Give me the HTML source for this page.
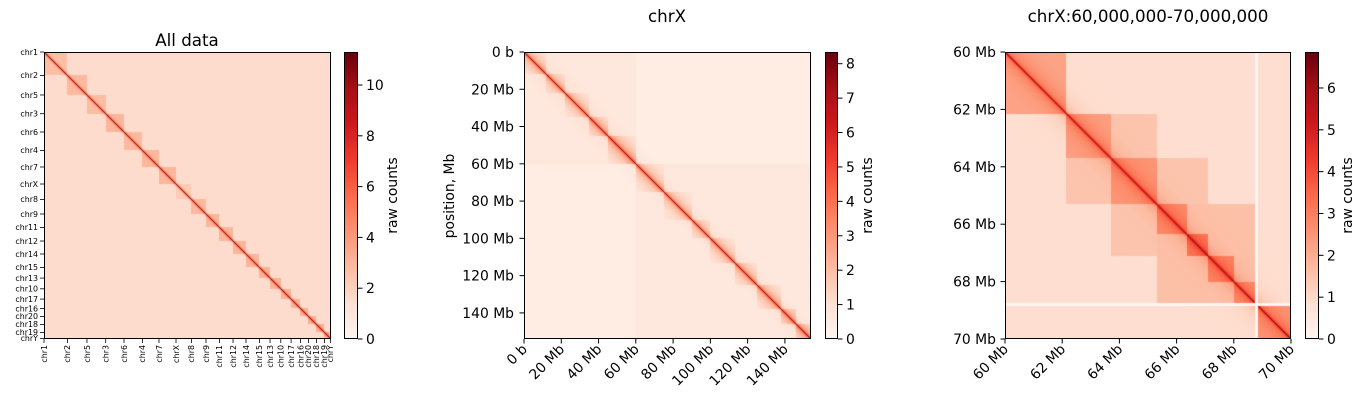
<!DOCTYPE html>
<html><head><meta charset="utf-8">
<style>
html,body{margin:0;padding:0;background:#fff;width:1366px;height:405px;overflow:hidden}
#root{position:relative;width:1366px;height:405px;font-family:"DejaVu Sans","Liberation Sans",sans-serif}
canvas{position:absolute}
svg{position:absolute;left:0;top:0}
</style></head>
<body>
<div id="root">
<canvas id="hm1" width="287" height="287" style="left:44px;top:52px;width:287px;height:287px"></canvas>
<canvas id="hm2" width="287" height="287" style="left:524px;top:52px;width:287px;height:287px"></canvas>
<canvas id="hm3" width="286" height="287" style="left:1005px;top:52px;width:286px;height:287px"></canvas>
<svg id="ov" width="1366" height="405"></svg>
</div>
<script>
// ---- Panel 1 data (genome-wide) ----
const chromNames = ["chr1","chr2","chr5","chr3","chr6","chr4","chr7","chrX","chr8","chr9","chr11","chr12","chr14","chr15","chr13","chr10","chr17","chr16","chr20","chr18","chr19","chrY"];
const chromSizes = [220,184,176,172,173,156,160,145,137,126,128,122,126,100,101,97,88,75,75,75,56,6];
const chromCisVals = [2.7,2.9,2.8,3.0,2.9,3.0,3.0,2.2,2.9,3.0,3.0,3.0,3.0,3.1,3.1,3.1,3.1,3.1,3.2,3.2,3.3,3.3];
const p1Background = [1.55];
const p1Diagonal = [10.5];
const p1ColorMax = [11.3];
const p1Ticks = [0,2,4,6,8,10];
// ---- Panel 2 data (chrX) ----
const chrXLength = [154];
const chrXDomainStarts = [0,60];
const chrXDomainVals = [0.7,0.65];
const chrXTadStarts = [0,12,22,35,45,60,75,90,100,113,125,138,146];
const chrXTadVals = [1.3,1.2,1.2,1.5,1.7,1.4,1.3,1.2,1.3,1.4,1.5,1.6,1.7];
const p2Background = [0.45];
const p2Diagonal = [7.5];
const p2ColorMax = [8.34];
const p2ColorTicks = [0,1,2,3,4,5,6,7,8];
const p2AxisTicks = [0,20,40,60,80,100,120,140];
const p2AxisLabels = ["0 b","20 Mb","40 Mb","60 Mb","80 Mb","100 Mb","120 Mb","140 Mb"];
// ---- Panel 3 data (chrX:60-70Mb) ----
const p3Range = [60,70];
const p3TadStarts = [60,62.15,63.7,65.3,66.35,67.1,68.0,68.85];
const p3TadEnds = [62.15,63.7,65.3,66.35,67.1,68.0,68.75,70];
const p3TadVals = [2.2,2.3,2.5,2.7,3.0,2.8,2.6,2.5];
const p3OuterStarts = [62.15,63.7,65.3];
const p3OuterEnds = [65.3,67.1,68.75];
const p3OuterVals = [1.5,1.5,1.6];
const p3Gap = [68.75,68.85];
const p3Background = [0.9];
const p3Diagonal = [6.3];
const p3ColorMax = [6.86];
const p3ColorTicks = [0,1,2,3,4,5,6];
const p3AxisTicks = [60,62,64,66,68,70];
const p3AxisLabels = ["60 Mb","62 Mb","64 Mb","66 Mb","68 Mb","70 Mb"];

const stops=[[255,245,240],[254,224,210],[252,187,161],[252,146,114],[251,106,74],[239,59,44],[203,24,29],[165,15,21],[103,0,13]];
function reds(t){t=Math.max(0,Math.min(1,t));const f=t*8,i=Math.min(7,Math.floor(f)),r=f-i;const a=stops[i],b=stops[i+1];return [a[0]+(b[0]-a[0])*r,a[1]+(b[1]-a[1])*r,a[2]+(b[2]-a[2])*r];}
function paint(id,valFn,vmax){const c=document.getElementById(id),ctx=c.getContext('2d');const w=c.width,h=c.height;const im=ctx.createImageData(w,h);
 for(let y=0;y<h;y++)for(let x=0;x<w;x++){const v=valFn((x+0.5)/w,(y+0.5)/h,w);const col=reds(v/vmax);const k=(y*w+x)*4;im.data[k]=col[0];im.data[k+1]=col[1];im.data[k+2]=col[2];im.data[k+3]=255;}
 ctx.putImageData(im,0,0);}
function idxOf(starts,p){let k=0;for(let i=0;i<starts.length;i++)if(p>=starts[i])k=i;return k;}

// panel 1
const totalG=chromSizes.reduce((a,b)=>a+b,0);
const chromStarts=[];{let s=0;for(const z of chromSizes){chromStarts.push(s);s+=z;}}
paint('hm1',(fx,fy,w)=>{const px=fx*totalG,py=fy*totalG;const a=idxOf(chromStarts,px),b=idxOf(chromStarts,py);
 const d=Math.abs(fx-fy)*w;let base=p1Background[0];if(a===b)base=chromCisVals[a];
 return base+(p1Diagonal[0]-base)*Math.exp(-d/0.9);},p1ColorMax[0]);
// panel 2
paint('hm2',(fx,fy,w)=>{const L=chrXLength[0];const px=fx*L,py=fy*L;const d=Math.abs(px-py);
 let base=p2Background[0];const da=idxOf(chrXDomainStarts,px),db=idxOf(chrXDomainStarts,py);if(da===db)base=chrXDomainVals[da];
 const ta=idxOf(chrXTadStarts,px),tb=idxOf(chrXTadStarts,py);if(ta===tb)base=base+chrXTadVals[ta]*Math.exp(-d/8);
 base=base+1.3*Math.exp(-d/3);
 const dp=Math.abs(fx-fy)*w;return base+(p2Diagonal[0]-base)*Math.exp(-dp/0.8);},p2ColorMax[0]);
// panel 3
paint('hm3',(fx,fy,w)=>{const R=p3Range[1]-p3Range[0];const px=p3Range[0]+fx*R,py=p3Range[0]+fy*R;
 if((px>=p3Gap[0]&&px<p3Gap[1])||(py>=p3Gap[0]&&py<p3Gap[1]))return 0;
 let base=p3Background[0];
 for(let i=0;i<p3OuterStarts.length;i++)if(px>=p3OuterStarts[i]&&px<p3OuterEnds[i]&&py>=p3OuterStarts[i]&&py<p3OuterEnds[i])base=Math.max(base,p3OuterVals[i]);
 for(let i=0;i<p3TadStarts.length;i++)if(px>=p3TadStarts[i]&&px<p3TadEnds[i]&&py>=p3TadStarts[i]&&py<p3TadEnds[i])base=Math.max(base,p3TadVals[i]);
 const d=Math.abs(px-py);base+=1.2*Math.exp(-d/0.35);
 const dp=Math.abs(fx-fy)*w;return base+(p3Diagonal[0]-base)*Math.exp(-dp/1.0);},p3ColorMax[0]);

// ---- SVG overlay ----
const NS="http://www.w3.org/2000/svg",ov=document.getElementById('ov');
const TF=13.9;
function el(tag,attrs,parent){const e=document.createElementNS(NS,tag);for(const k in attrs)e.setAttribute(k,attrs[k]);(parent||ov).appendChild(e);return e;}
function txt(s,attrs,name){const t=el('text',attrs);t.textContent=s;return t;}
function frame(x,y,w,h,name){const r=el('rect',{x:x+0.5,y:y+0.5,width:w-1,height:h-1,fill:'none',stroke:'#000','stroke-width':1});}
const defs=el('defs',{});
const grad=el('linearGradient',{id:'cg',x1:0,y1:1,x2:0,y2:0},defs);
stops.forEach((s,i)=>el('stop',{offset:(i/8),'stop-color':`rgb(${s[0]},${s[1]},${s[2]})`},grad));
function colorbar(x,y,w,h,vmax,ticks,labelX,name){
 const r=el('rect',{x:x,y:y,width:w,height:h,fill:'url(#cg)'});
 frame(x,y,w,h,name+'-frame');
 ticks.forEach(t=>{const ty=y+h-(t/vmax)*h;el('line',{x1:x+w,x2:x+w+4.5,y1:ty,y2:ty,stroke:'#000'});
  txt(String(t),{x:x+w+8,y:ty+5,'font-size':TF},'colorbar-tick-label');});
 txt('raw counts',{x:labelX,y:y+h/2,'font-size':TF,'text-anchor':'middle',transform:`rotate(-90 ${labelX} ${y+h/2})`},'colorbar-title');
}
// panel 1 axes
frame(44,52,287,287,'all-data-frame');
txt('All data',{x:187,y:46,'font-size':16.7,'text-anchor':'middle'},'all-data-title');
chromNames.forEach((nm,i)=>{const p=chromStarts[i]/totalG*287;
 el('line',{x1:40,x2:44,y1:52+p,y2:52+p,stroke:'#000','stroke-width':0.8});
 txt(nm,{x:38,y:52+p+2.8,'font-size':7.9,'text-anchor':'end'},'y-chrom-label');
 el('line',{x1:44+p,x2:44+p,y1:339,y2:343,stroke:'#000','stroke-width':0.8});
 const lx=44+p+2.8;txt(nm,{x:lx,y:345,'font-size':7.9,'text-anchor':'end',transform:`rotate(-90 ${lx} 345)`},'x-chrom-label');});
colorbar(344,52,14,287,p1ColorMax[0],p1Ticks,397,'all-data-colorbar');
// panel 2 axes
frame(524,52,287,287,'chrx-frame');
txt('chrX',{x:667,y:22,'font-size':16.7,'text-anchor':'middle'},'chrx-title');
p2AxisTicks.forEach((t,i)=>{const p=t/chrXLength[0]*287;
 el('line',{x1:519.5,x2:524,y1:52+p,y2:52+p,stroke:'#000'});
 txt(p2AxisLabels[i],{x:514,y:52+p+5,'font-size':TF,'text-anchor':'end'},'chrx-y-tick-label');
 el('line',{x1:524+p,x2:524+p,y1:339,y2:343.5,stroke:'#000'});
 const lx=524+p+4,ly=350;txt(p2AxisLabels[i],{x:lx,y:ly,'font-size':TF,'text-anchor':'end',transform:`rotate(-45 ${lx} ${ly})`},'chrx-x-tick-label');});
txt('position, Mb',{x:454,y:196,'font-size':TF,'text-anchor':'middle',transform:'rotate(-90 454 196)'},'chrx-y-axis-title');
colorbar(825,52,13,287,p2ColorMax[0],p2ColorTicks,872,'chrx-colorbar');
// panel 3 axes
frame(1005,52,286,287,'chrx-zoom-frame');
txt('chrX:60,000,000-70,000,000',{x:1148,y:22,'font-size':16.7,'text-anchor':'middle'},'chrx-zoom-title');
p3AxisTicks.forEach((t,i)=>{const f=(t-p3Range[0])/(p3Range[1]-p3Range[0]);
 const py=52+f*287,px=1005+f*286;
 el('line',{x1:1000.5,x2:1005,y1:py,y2:py,stroke:'#000'});
 txt(p3AxisLabels[i],{x:996,y:py+5,'font-size':TF,'text-anchor':'end'},'zoom-y-tick-label');
 el('line',{x1:px,x2:px,y1:339,y2:343.5,stroke:'#000'});
 const lx=px+4,ly=350;txt(p3AxisLabels[i],{x:lx,y:ly,'font-size':TF,'text-anchor':'end',transform:`rotate(-45 ${lx} ${ly})`},'zoom-x-tick-label');});
colorbar(1305,52,14,287,p3ColorMax[0],p3ColorTicks,1352,'chrx-zoom-colorbar');
</script>
</body></html>
